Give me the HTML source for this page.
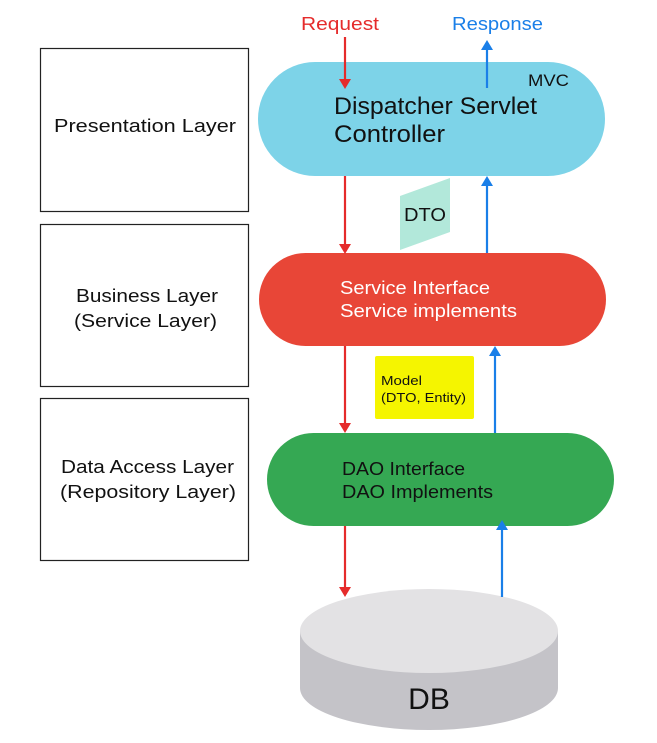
<!DOCTYPE html>
<html><head><meta charset="utf-8"><style>
html,body{margin:0;padding:0;background:#fff}
svg{display:block}
text{font-family:"Liberation Sans","Noto Sans CJK JP",sans-serif}
</style></head><body>
<svg width="657" height="743" viewBox="0 0 657 743">
<g fill="#fff" stroke="#222" stroke-width="1.2">
<rect x="40.5" y="48.5" width="208" height="163"/>
<rect x="40.5" y="224.5" width="208" height="162"/>
<rect x="40.5" y="398.5" width="208" height="162"/>
</g>
<g font-size="18" fill="#111">
<text x="54" y="132" textLength="182" lengthAdjust="spacingAndGlyphs">Presentation Layer</text>
<text x="76" y="302" textLength="142" lengthAdjust="spacingAndGlyphs">Business Layer</text>
<text x="74" y="327" textLength="143" lengthAdjust="spacingAndGlyphs">(Service Layer)</text>
<text x="61" y="473" textLength="173" lengthAdjust="spacingAndGlyphs">Data Access Layer</text>
<text x="60" y="498" textLength="176" lengthAdjust="spacingAndGlyphs">(Repository Layer)</text>
</g>
<rect x="258" y="62" width="347" height="114" rx="57" fill="#7dd3e8"/>
<rect x="259" y="253" width="347" height="93" rx="46.5" fill="#e84637"/>
<rect x="267" y="433" width="347" height="93" rx="46.5" fill="#35a853"/>
<polygon points="400,196 450,178 450,232 400,250" fill="#b2e8da"/>
<rect x="375" y="356" width="99" height="63" rx="2" fill="#f5f500"/>
<path d="M300,631 L300,688 A129,42 0 0 0 558,688 L558,631 Z" fill="#c4c3c8"/>
<ellipse cx="429" cy="631" rx="129" ry="42" fill="#e3e2e4"/>
<text x="301" y="30" font-size="18" fill="#e52b2b" textLength="78" lengthAdjust="spacingAndGlyphs">Request</text>
<text x="452" y="30" font-size="18" fill="#1a7fe8" textLength="91" lengthAdjust="spacingAndGlyphs">Response</text>
<text x="528" y="86" font-size="17" fill="#111" textLength="41" lengthAdjust="spacingAndGlyphs">MVC</text>
<text x="334" y="114" font-size="24" fill="#111" textLength="203" lengthAdjust="spacingAndGlyphs">Dispatcher Servlet</text>
<text x="334" y="142" font-size="24" fill="#111" textLength="111" lengthAdjust="spacingAndGlyphs">Controller</text>
<text x="404" y="221" font-size="18" fill="#111" textLength="42" lengthAdjust="spacingAndGlyphs">DTO</text>
<text x="340" y="294" font-size="18" fill="#fff" textLength="150" lengthAdjust="spacingAndGlyphs">Service Interface</text>
<text x="340" y="317" font-size="18" fill="#fff" textLength="177" lengthAdjust="spacingAndGlyphs">Service implements</text>
<text x="381" y="385" font-size="13" fill="#111" textLength="41" lengthAdjust="spacingAndGlyphs">Model</text>
<text x="381" y="402" font-size="13" fill="#111" textLength="85" lengthAdjust="spacingAndGlyphs">(DTO, Entity)</text>
<text x="342" y="475" font-size="18" fill="#111" textLength="123" lengthAdjust="spacingAndGlyphs">DAO Interface</text>
<text x="342" y="498" font-size="18" fill="#111" textLength="151" lengthAdjust="spacingAndGlyphs">DAO Implements</text>
<text x="429" y="709" font-size="30" fill="#111" text-anchor="middle">DB</text>
<g stroke="#e52b2b" stroke-width="2.2">
<line x1="345" y1="37" x2="345" y2="80"/>
<line x1="345" y1="176" x2="345" y2="245"/>
<line x1="345" y1="346" x2="345" y2="424"/>
<line x1="345" y1="526" x2="345" y2="588"/>
</g>
<g fill="#e52b2b">
<path d="M339,79 L351,79 L345,89 Z"/>
<path d="M339,244 L351,244 L345,254 Z"/>
<path d="M339,423 L351,423 L345,433 Z"/>
<path d="M339,587 L351,587 L345,597 Z"/>
</g>
<g stroke="#1a7fe8" stroke-width="2.2">
<line x1="487" y1="88" x2="487" y2="48"/>
<line x1="487" y1="253" x2="487" y2="184"/>
<line x1="495" y1="433" x2="495" y2="354"/>
<line x1="502" y1="597" x2="502" y2="528"/>
</g>
<g fill="#1a7fe8">
<path d="M481,50 L493,50 L487,40 Z"/>
<path d="M481,186 L493,186 L487,176 Z"/>
<path d="M489,356 L501,356 L495,346 Z"/>
<path d="M496,530 L508,530 L502,520 Z"/>
</g>
</svg>
</body></html>
